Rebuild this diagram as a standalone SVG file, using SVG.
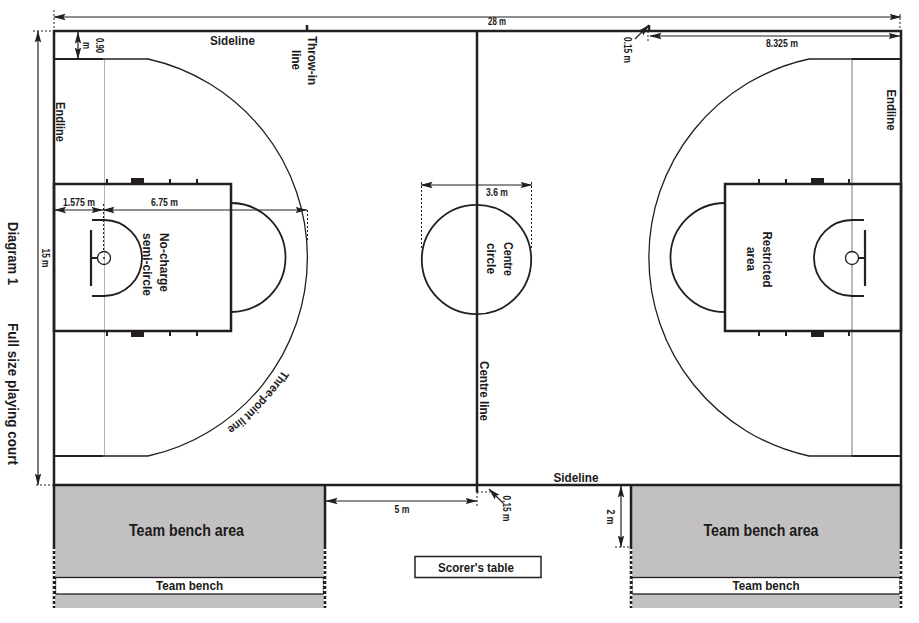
<svg xmlns="http://www.w3.org/2000/svg" width="919" height="623" viewBox="0 0 919 623">
<style>
text{font-family:"Liberation Sans",Arial,sans-serif;font-weight:bold;fill:#1c1a1a;text-anchor:middle;font-size:12px}
.s{font-size:10px}
.l{font-size:15px}
.m{font-size:16px}
.k{fill:none;stroke:#231f20;stroke-width:2.5}
.c{fill:none;stroke:#231f20;stroke-width:1.8}
.t{fill:none;stroke:#231f20;stroke-width:1.3}
.g{fill:none;stroke:#b5b5b5;stroke-width:1}
.d{fill:none;stroke:#231f20;stroke-width:1.2;marker-start:url(#a);marker-end:url(#a)}
.e{fill:none;stroke:#231f20;stroke-width:1.2;marker-end:url(#a)}
.o{fill:none;stroke:#231f20;stroke-width:1;stroke-dasharray:2 2}
.w{fill:none;stroke:#fff;stroke-width:3;stroke-dasharray:2 3}
.b{fill:#231f20}
.n{fill:#c2c0c1}
</style>
<defs>
<marker id="a" markerUnits="userSpaceOnUse" markerWidth="12" markerHeight="8" refX="11.500" refY="4" orient="auto-start-reverse"><path d="M0 .8L12 4L0 7.200L2 4Z" fill="#231f20"/></marker>
<g id="ticks"><rect x="0" y="-4" width="2" height="4"/><rect x="25" y="-5" width="13" height="5"/><rect x="63" y="-4" width="2" height="4"/><rect x="90" y="-4" width="2" height="4"/></g>
<path id="tp" d="M282.500 370A209 209 0 0 1 175.500 454.400" fill="none"/>
</defs>

<g id="bench-left">
<rect class="n" x="54" y="485" width="271" height="123"/>
<rect x="55.500" y="577.500" width="268" height="16.500" fill="#fff" stroke="#231f20" stroke-width="1.300"/>
<path class="k" d="M54 485V608M325 485V608"/>
<path class="w" d="M54 549V608M325 549V608"/>
<text class="m" x="186.500" y="535.500" textLength="115" lengthAdjust="spacingAndGlyphs">Team bench area</text>
<text x="189.500" y="589.500" textLength="67" lengthAdjust="spacingAndGlyphs">Team bench</text>
</g>
<g id="bench-right">
<rect class="n" x="631" y="485" width="270" height="123"/>
<rect x="632" y="577.500" width="268" height="16.500" fill="#fff" stroke="#231f20" stroke-width="1.300"/>
<path class="k" d="M631 485V608M901 485V608"/>
<path class="w" d="M631 549V608M901 549V608"/>
<text class="m" x="761" y="535.500" textLength="115" lengthAdjust="spacingAndGlyphs">Team bench area</text>
<text x="766" y="589.500" textLength="67" lengthAdjust="spacingAndGlyphs">Team bench</text>
</g>
<g id="scorers-table">
<rect x="415" y="556.500" width="126" height="21" fill="#fff" stroke="#231f20" stroke-width="1.500"/>
<text x="476" y="571.500" textLength="76" lengthAdjust="spacingAndGlyphs">Scorer's table</text>
</g>

<g id="court">
<rect class="k" x="54" y="31" width="847" height="454"/>
<path class="k" d="M477 31V492M307 25V31M649 25V31"/>
<text x="232.500" y="45" textLength="45" lengthAdjust="spacingAndGlyphs">Sideline</text>
<text x="576" y="482" textLength="45" lengthAdjust="spacingAndGlyphs">Sideline</text>
<text transform="translate(56 122) rotate(90)" textLength="40" lengthAdjust="spacingAndGlyphs">Endline</text>
<text transform="translate(887 110) rotate(90)" textLength="41" lengthAdjust="spacingAndGlyphs">Endline</text>
<text transform="translate(308 60.500) rotate(90)" textLength="49" lengthAdjust="spacingAndGlyphs">Throw-in</text>
<text transform="translate(292 60) rotate(90)" textLength="20" lengthAdjust="spacingAndGlyphs">line</text>
<text transform="translate(480 391) rotate(90)" textLength="60" lengthAdjust="spacingAndGlyphs">Centre line</text>
</g>
<g id="centre-circle">
<circle class="c" cx="476.500" cy="259.500" r="54.700"/>
<text transform="translate(504 259) rotate(90)" textLength="34" lengthAdjust="spacingAndGlyphs">Centre</text>
<text transform="translate(487 258.500) rotate(90)" textLength="31" lengthAdjust="spacingAndGlyphs">circle</text>
</g>

<g id="left-half">
<path class="g" d="M104.500 59V456"/>
<path class="c" d="M54 59H103M54 456H103"/>
<path class="t" d="M103 59H148A203.300 203.300 0 0 1 148 456H103"/>
<rect class="k" x="54" y="184" width="177" height="147"/>
<use href="#ticks" x="106" y="183" class="b"/>
<use href="#ticks" transform="translate(106 332) scale(1 -1)" class="b"/>
<path class="c" d="M231 203A54.500 54.500 0 0 1 231 312"/>
<path class="c" d="M92 220H104A38 38 0 0 1 104 296H92"/>
<path stroke="#231f20" stroke-width="2.200" fill="none" d="M91 230V286M91 258H97"/>
<circle cx="104" cy="258" r="6.500" fill="none" stroke="#231f20" stroke-width="1.300"/>
<circle cx="104" cy="258" r="1" class="b"/>
<text transform="translate(160 262.500) rotate(90)" textLength="59" lengthAdjust="spacingAndGlyphs">No-charge</text>
<text transform="translate(143 264.500) rotate(90)" textLength="63" lengthAdjust="spacingAndGlyphs">semi-circle</text>
<text style="text-anchor:start"><textPath href="#tp" textLength="81" lengthAdjust="spacingAndGlyphs">Three-point line</textPath></text>
</g>

<g id="right-half">
<path d="M852 59V456" fill="none" stroke="#777" stroke-width="1"/>
<path class="c" d="M852 59H901M852 456H901"/>
<path class="t" d="M852 59H809A203.100 203.100 0 0 0 809 456H852"/>
<rect class="k" x="725" y="184" width="176" height="147"/>
<path class="b" d="M758 179h2v4h-2zM785 179h2v4h-2zM811 178h13v5h-13zM848 179h2v4h-2zM758 332h2v4h-2zM785 332h2v4h-2zM811 332h13v5h-13zM848 332h2v4h-2z"/>
<path class="c" d="M725 203A54.500 54.500 0 0 0 725 312"/>
<path class="c" d="M864 220H852A38 38 0 0 0 852 296H864"/>
<path stroke="#231f20" stroke-width="2.200" fill="none" d="M865 230V286M865 258H859"/>
<circle cx="852" cy="258" r="6.500" fill="#fff" stroke="#231f20" stroke-width="1.300"/>
<text transform="translate(763 259.500) rotate(90)" textLength="56" lengthAdjust="spacingAndGlyphs">Restricted</text>
<text transform="translate(746.500 259) rotate(90)" textLength="24" lengthAdjust="spacingAndGlyphs">area</text>
</g>

<g id="connectors">
<path class="o" d="M54 10V31M900 14V30M33 31H54M36 485H54M648 31V42M103.500 204V250M307.500 210V242M421.500 182V250M531.500 182V250M477 492H490M477 492V508M615 547H631"/>
<path class="d" d="M54 17H901"/>
<path class="d" d="M38 31V485"/>
<path class="d" d="M78 32V59"/>
<path class="d" d="M54.500 210H103"/>
<path class="d" d="M103 210H307"/>
<path class="d" d="M421 185H532"/>
<path class="d" d="M650 36H900"/>
<path class="d" d="M326 501H477"/>
<path class="d" d="M621 486V547"/>
<path class="e" d="M635 39L649 25"/>
<path class="e" d="M503 503L489 489"/>
</g>
<g id="labels">
<text class="s" x="497" y="25" textLength="18" lengthAdjust="spacingAndGlyphs">28 m</text>
<text class="s" transform="translate(42 258) rotate(90)" textLength="19" lengthAdjust="spacingAndGlyphs">15 m</text>
<text class="s" transform="translate(96 45.500) rotate(90)" textLength="15" lengthAdjust="spacingAndGlyphs">0.90</text>
<text class="s" transform="translate(83 45.500) rotate(90)" textLength="7" lengthAdjust="spacingAndGlyphs">m</text>
<text class="s" x="79" y="206" textLength="32" lengthAdjust="spacingAndGlyphs">1.575 m</text>
<text class="s" x="164.500" y="206" textLength="27" lengthAdjust="spacingAndGlyphs">6.75 m</text>
<text class="s" x="497" y="196" textLength="22" lengthAdjust="spacingAndGlyphs">3.6 m</text>
<text class="s" x="782" y="47" textLength="32" lengthAdjust="spacingAndGlyphs">8.325 m</text>
<text class="s" transform="translate(624 50) rotate(90)" textLength="26" lengthAdjust="spacingAndGlyphs">0.15 m</text>
<text class="s" transform="translate(503 508.500) rotate(90)" textLength="26" lengthAdjust="spacingAndGlyphs">0.15 m</text>
<text class="s" x="402" y="513" textLength="15" lengthAdjust="spacingAndGlyphs">5 m</text>
<text class="s" transform="translate(607 517) rotate(90)" textLength="15" lengthAdjust="spacingAndGlyphs">2 m</text>
<text class="l" transform="translate(7.500 253.500) rotate(90)" textLength="63" lengthAdjust="spacingAndGlyphs">Diagram 1</text>
<text class="l" transform="translate(7.500 394) rotate(90)" textLength="142" lengthAdjust="spacingAndGlyphs">Full size playing court</text>
</g>
</svg>
